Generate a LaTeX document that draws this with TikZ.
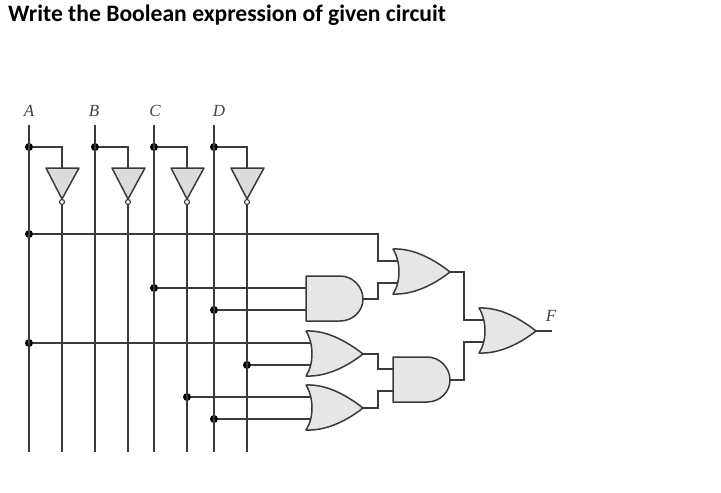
\documentclass[tikz,border=0pt]{standalone}
\usepackage{fontspec}
\setmainfont{Liberation Serif}
\newfontfamily\titlefont{Carlito}
\tikzset{
  x=1pt,y=-1pt,
  wire/.style={draw=wirecol,line width=1.5pt},
  gateshape/.style={draw=wirecol,line width=1.5pt,fill=gatefill,line join=round},
  junction/.style={circle,fill=black,inner sep=0pt,minimum size=8pt},
  bubble/.style={circle,draw=wirecol,fill=white,line width=1.1pt,inner sep=0pt,minimum size=5pt},
  inputlabel/.style={font=\itshape\fontsize{17}{17}\selectfont,text=labelcol,inner sep=0pt},
  orgate/.pic={
    \path[gateshape] (0,-23) .. controls (22,-24) and (43,-11) .. (57,0)
      .. controls (43,11) and (22,23) .. (0,22)
      .. controls (8,10) and (8,-10) .. (0,-23) -- cycle;
    \coordinate (-in1) at (4,-11);
    \coordinate (-in2) at (4,11);
    \coordinate (-out) at (57,0);
  },
  andgate/.pic={
    \path[gateshape] (0,-23) -- (34,-23) .. controls (47,-23) and (57,-12) .. (57,0)
      .. controls (57,12) and (47,22) .. (34,22) -- (0,22) -- cycle;
    \coordinate (-in1) at (0,-11);
    \coordinate (-in2) at (0,11);
    \coordinate (-out) at (57,0);
  },
  invgate/.pic={
    \path[gateshape,fill=invfill,miter limit=4] (-16,0) -- (17,0) -- (0,31) -- cycle;
    \coordinate (-in) at (0,0);
    \node[bubble] (-bub) at (0,34) {};
  },
}
\definecolor{wirecol}{HTML}{3A3A3A}
\definecolor{gatefill}{HTML}{E6E6E6}
\definecolor{invfill}{HTML}{DCDCDC}
\definecolor{labelcol}{HTML}{444444}
\begin{document}
\begin{tikzpicture}
\useasboundingbox (0,0) rectangle (721,493);
\fill[white] (0,0) rectangle (721,493);
\node[anchor=west,inner sep=0pt,font=\titlefont\bfseries\fontsize{23.6}{24}\selectfont] (title) at (8,15) {Write the Boolean expression of given circuit};

% input labels
\node[inputlabel] (lA) at (29,111) {A};
\node[inputlabel] (lB) at (94,111) {B};
\node[inputlabel] (lC) at (155,111) {C};
\node[inputlabel] (lD) at (219,111) {D};
\node[inputlabel] (lF) at (551,316) {F};

% rail ends
\foreach \n/\x in {A/29,B/95,C/154,D/214,a/62,b/128,c/187,d/247} {
  \coordinate (top\n) at (\x,125);
  \coordinate (bot\n) at (\x,452);
}

% inverters
\pic (inva) at (62,168) {invgate};
\pic (invb) at (128,168) {invgate};
\pic (invc) at (187,168) {invgate};
\pic (invd) at (247,168) {invgate};

% junctions
\node[junction] (jA1) at (29,147) {};
\node[junction] (jB1) at (95,147) {};
\node[junction] (jC1) at (154,147) {};
\node[junction] (jD1) at (214,147) {};
\node[junction] (jA2) at (29,234) {};
\node[junction] (jA3) at (29,343) {};
\node[junction] (jC2) at (154,288) {};
\node[junction] (jD2) at (214,310) {};
\node[junction] (jD3) at (214,419) {};
\node[junction] (jc) at (187,397) {};
\node[junction] (jd) at (247,365) {};

% rails
\draw[wire] (topA) -- (botA);
\draw[wire] (topB) -- (botB);
\draw[wire] (topC) -- (botC);
\draw[wire] (topD) -- (botD);
\draw[wire] (jA1) -| (inva-in);
\draw[wire] (jB1) -| (invb-in);
\draw[wire] (jC1) -| (invc-in);
\draw[wire] (jD1) -| (invd-in);
\draw[wire] (inva-bub) -- (bota);
\draw[wire] (invb-bub) -- (botb);
\draw[wire] (invc-bub) -- (botc);
\draw[wire] (invd-bub) -- (botd);

% gates
\coordinate (orAp) at (393,272);
\coordinate (orBp) at (306,354);
\coordinate (orCp) at (306,408);
\coordinate (orFp) at (479,331);
\coordinate (andAp) at (306,299);
\coordinate (andBp) at (393,380);

\pic (orA) at (orAp) {orgate};
\pic (orB) at (orBp) {orgate};
\pic (orC) at (orCp) {orgate};
\pic (orF) at (orFp) {orgate};
\pic (andA) at (andAp) {andgate};
\pic (andB) at (andBp) {andgate};

% connecting wires
\coordinate (bendA) at (378,234);
\draw[wire] (jA2) -- (bendA) |- (orA-in1);
\draw[wire] (jC2) -- (andA-in1);
\draw[wire] (jD2) -- (andA-in2);
\draw[wire] (jA3) -- (orB-in1);
\draw[wire] (jd) -- (orB-in2);
\draw[wire] (jc) -- (orC-in1);
\draw[wire] (jD3) -- (orC-in2);
\coordinate (midA) at (378,299);
\coordinate (midB) at (378,354);
\coordinate (midC) at (378,408);
\coordinate (midO) at (464,272);
\coordinate (midN) at (464,380);
\draw[wire] (andA-out) -- (midA) |- (orA-in2);
\draw[wire] (orB-out) -- (midB) |- (andB-in1);
\draw[wire] (orC-out) -- (midC) |- (andB-in2);
\draw[wire] (orA-out) -- (midO) |- (orF-in1);
\draw[wire] (andB-out) -- (midN) |- (orF-in2);
\coordinate (outF) at (552,331);
\draw[wire] (orF-out) -- (outF);
\end{tikzpicture}
\end{document}
